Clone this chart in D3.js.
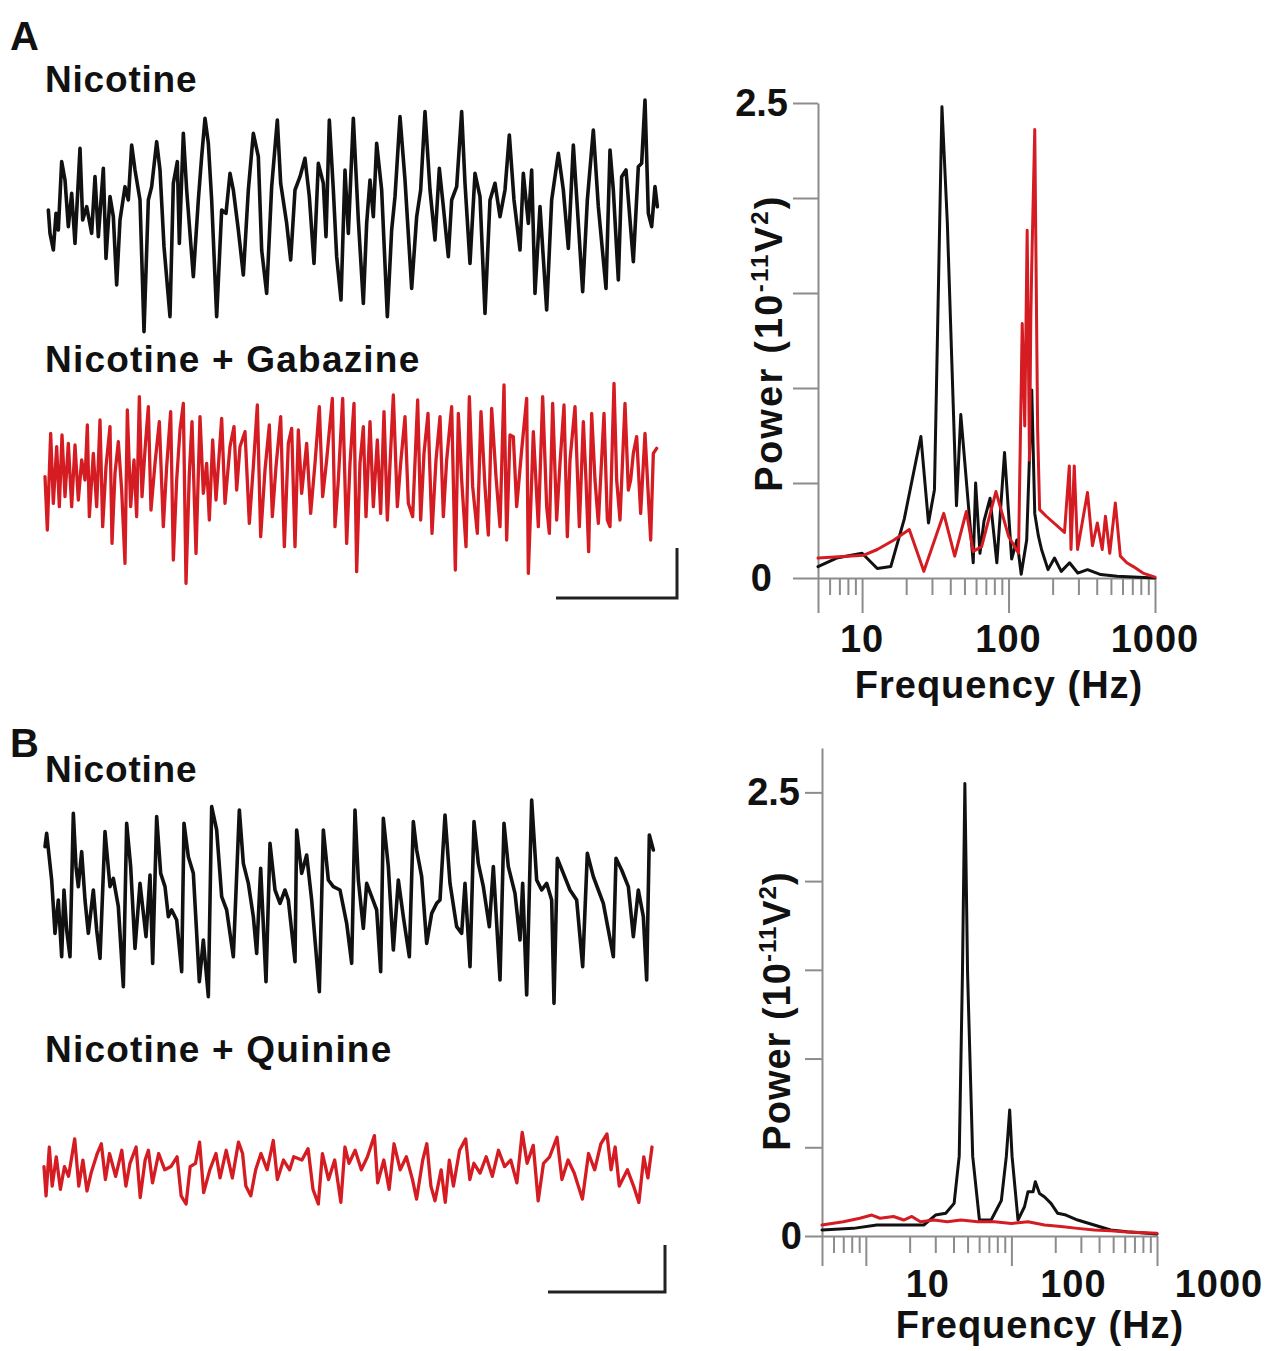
<!DOCTYPE html>
<meta charset="utf-8">
<html>
	<style>
		body {
		  margin: 0;
		  background: #fff;
		}
		text {
		  font-family: "Liberation Sans", Arial, sans-serif;
		  font-weight: bold;
		  fill: #111;
		}
		.axis path, .axis line {
		  stroke: #8c8c8c;
		  stroke-width: 2;
		}
		.trace, .spec {
		  fill: none;
		  stroke-linejoin: round;
		  stroke-linecap: round;
		}
	</style>

<body>
	<div id="figure"></div>

	<script src="https://d3js.org/d3.v7.min.js"></script>
<script>
//	-----Data-----
//	Field potential traces: [sample, amplitude (a.u.)]
	const traceA_nicotine = [[25,15],[30,-55],[40,-105],[48,5],[55,-45],[65,160],[75,105],[85,-35],[95,65],[105,-85],[120,200],[128,-15],[140,25],[155,-55],[165,115],[175,-65],[190,140],[198,-130],[210,55],[220,-5],[230,-210],[240,-15],[255,85],[265,45],[275,210],[285,135],[300,45],[312,-350],[325,45],[335,85],[350,220],[360,135],[372,-95],[390,-305],[400,95],[412,160],[418,-85],[430,245],[440,75],[460,-185],[475,45],[485,175],[495,290],[505,215],[515,45],[530,-305],[545,15],[558,5],[570,125],[580,75],[595,-45],[610,-180],[625,75],[640,245],[655,175],[665,-105],[680,-235],[695,85],[712,285],[722,95],[740,-25],[752,-135],[765,75],[780,115],[795,170],[808,55],[822,-145],[835,155],[850,95],[858,-65],[868,285],[880,75],[890,-125],[903,-255],[915,135],[925,-55],[940,290],
		[955,-15],[970,-265],[980,-25],[990,105],[1000,-5],[1010,215],[1025,75],[1042,-305],[1055,-45],[1065,55],[1080,295],[1095,105],[1115,-220],[1130,-5],[1142,75],[1155,310],[1170,75],[1185,-75],[1198,140],[1210,25],[1225,-125],[1235,45],[1250,85],[1265,310],[1275,95],[1290,-145],[1305,125],[1320,55],[1335,-295],[1350,45],[1365,95],[1380,-5],[1395,75],[1408,240],[1422,45],[1440,-105],[1450,125],[1465,-25],[1475,135],[1485,-235],[1500,25],[1520,-285],[1535,45],[1555,185],[1570,75],[1585,-100],[1600,210],[1615,-25],[1628,-230],[1642,45],[1660,255],[1675,25],[1698,-220],[1710,195],[1720,75],[1735,-195],[1745,115],[1758,135],[1780,-140],[1795,145],[1805,155],[1815,345],[1825,5],[1835,-35],[1845,85],[1852,25]];

	const traceA_gabazine = [[15,0],[22,-160],[32,130],[40,-80],[50,90],[58,-90],[66,125],[75,-60],[85,100],[95,-90],[105,95],[115,-70],[125,50],[135,-10],[142,155],[148,-120],[160,70],[170,-90],[180,170],[188,-150],[198,30],[210,150],[216,-200],[225,10],[235,105],[245,-40],[255,-260],[262,200],[272,-90],[282,50],[290,-120],[298,240],[306,-60],[315,80],[325,210],[333,-100],[345,40],[358,165],[370,-150],[380,30],[392,195],[400,-250],[410,-10],[420,140],[430,220],[438,-320],[448,10],[456,165],[468,-230],[480,180],[490,-50],[500,40],[508,-130],[518,110],[528,-70],[545,175],[555,-80],[570,90],[582,150],[590,-40],[600,90],[615,135],[628,-140],[640,30],[652,215],[662,-180],[675,20],[688,155],[697,-120],[708,30],[722,180],[733,-210],[745,100],[755,145],[765,-210],[775,140],[785,-50],[800,100],[812,-110],[825,40],[838,210],[848,-60],[860,50],[877,235],[885,-150],[895,-10],[908,235],[920,-200],[930,40],[942,220],[950,-285],
		[960,40],[970,150],[978,-120],[990,165],[1000,-90],[1012,110],[1022,-110],[1032,195],[1042,-130],[1060,245],[1072,-90],[1082,40],[1095,180],[1105,-80],[1118,-120],[1133,230],[1142,-130],[1152,70],[1164,190],[1176,-170],[1188,50],[1200,180],[1210,-120],[1220,50],[1235,210],[1246,-280],[1255,190],[1265,-10],[1278,-210],[1288,240],[1298,-30],[1312,-170],[1323,195],[1335,-30],[1345,-175],[1355,205],[1368,0],[1380,-150],[1392,275],[1400,-190],[1410,125],[1420,120],[1430,-90],[1445,80],[1460,235],[1465,-290],[1475,-10],[1480,135],[1495,-150],[1508,240],[1520,-90],[1528,-170],[1538,220],[1550,-130],[1560,40],[1572,215],[1582,-180],[1590,50],[1605,210],[1618,-150],[1630,165],[1638,-10],[1646,-225],[1655,190],[1665,-10],[1675,-140],[1692,190],[1702,-130],[1710,-150],[1722,280],[1730,-10],[1740,-130],[1755,220],[1765,-40],[1772,-10],[1780,70],[1790,120],[1802,-110],[1815,130],[1832,-190],[1840,70],[1850,85]];

	const traceB_nicotine = [[15,150],[20,190],[35,50],[45,-110],[55,-10],[65,-180],[72,20],[80,-100],[90,-180],[100,250],[108,90],[115,30],[125,135],[135,-10],[145,-110],[160,20],[170,-100],[180,-185],[195,195],[210,30],[220,55],[235,-30],[250,-270],[260,220],[272,90],[285,-155],[300,40],[318,-120],[330,65],[338,-200],[350,240],[362,70],[375,30],[385,-60],[395,-40],[410,-70],[425,-225],[432,220],[445,120],[460,70],[478,-255],[490,-130],[505,-300],[515,270],[530,200],[545,0],[560,-40],[580,-180],[598,260],[610,100],[625,40],[640,-60],[650,-170],[662,85],[678,-255],[690,160],[705,20],[720,-20],[735,20],[745,-10],[765,-195],[770,200],[785,70],[800,125],[815,-10],[838,-285],[850,200],[865,50],[880,30],[900,20],[920,-80],[935,-200],[945,260],
		[955,50],[970,-95],[980,40],[995,0],[1010,-40],[1022,-225],[1030,235],[1045,90],[1060,-160],[1075,50],[1090,-60],[1108,-180],[1120,225],[1130,140],[1145,60],[1160,-140],[1175,-50],[1190,-20],[1200,-10],[1215,245],[1230,40],[1250,-90],[1265,-110],[1275,40],[1290,-210],[1302,225],[1315,100],[1330,30],[1348,-90],[1360,90],[1380,-250],[1392,220],[1405,90],[1425,10],[1440,-130],[1448,40],[1460,-295],[1475,290],[1490,50],[1505,20],[1520,40],[1535,-10],[1542,-320],[1552,115],[1570,70],[1590,20],[1610,-10],[1628,-210],[1642,130],[1660,60],[1675,20],[1690,-20],[1720,-180],[1728,115],[1745,80],[1765,30],[1780,-120],[1795,20],[1810,-60],[1820,-250],[1828,185],[1840,140]];

	const traceB_quinine = [[15,10],[20,-80],[28,70],[35,-50],[45,40],[55,-60],[65,10],[75,-20],[90,95],[100,-50],[110,30],[120,-65],[130,-10],[145,50],[155,80],[165,-30],[175,50],[190,-20],[205,60],[215,-50],[225,20],[240,70],[250,-85],[262,30],[270,60],[280,-40],[295,50],[310,0],[325,10],[340,40],[350,-80],[362,-105],[372,10],[385,20],[395,85],[405,-70],[420,0],[435,50],[445,-25],[460,60],[475,-25],[490,85],[500,50],[508,-50],[520,-80],[532,0],[545,50],[560,0],[575,90],[585,-30],[600,30],[615,0],[625,40],[645,30],[660,65],[672,-60],[685,-105],[695,50],[710,-30],[725,30],[740,-100],[750,70],[760,20],[775,60],[790,0],[805,40],[822,105],[830,-40],[845,30],[858,-60],[870,80],[885,0],[900,40],[915,-30],[925,-90],[940,30],[950,80],[960,-50],[970,-95],[985,0],[995,-100],[1005,30],[1015,-50],[1030,60],[1045,95],[1055,-30],[1065,20],[1080,-10],[1095,40],[1110,-20],[1125,60],[1140,10],[1155,30],[1170,-40],[1183,115],[1195,20],[1210,75],[1222,-95],[1235,20],[1250,40],[1268,100],[1280,-30],[1295,30],[1310,-10],[1330,-90],[1345,50],[1360,0],[1375,80],[1390,110],[1400,0],[1410,70],[1420,-50],[1440,0],[1455,-50],[1468,-100],[1480,40],[1490,-25],[1500,70]];

//	Power spectra: [frequency (Hz), power (10^-11 V^2)]
	const specA_nicotine = [[5,0.06],[6.7,0.105],[10,0.13],[12.7,0.05],[15.7,0.06],[19.4,0.31],[25.2,0.745],[28.4,0.29],[31.2,0.465],[35.1,2.48],[38.2,1.87],[44.1,0.38],[47.2,0.86],[57.4,0.08],[59.6,0.5],[63.8,0.13],[68,0.3],[74.8,0.42],[83.2,0.08],[93.9,0.66],[105,0.10],[114,0.2],[122,0.02],[133,0.2],[144,0.99],[151,0.34],[160,0.22],[168,0.15],[186,0.044],[206,0.105],[229,0.035],[261,0.08],[297,0.026],[346,0.044],[426,0.018],[551,0.009],[1000,0]];

	const specA_gabazine = [[5,0.105],[10.3,0.12],[12.7,0.15],[16.5,0.2],[21,0.255],[26.4,0.035],[36.1,0.34],[42.9,0.115],[51.5,0.35],[57.4,0.14],[65.5,0.165],[82,0.455],[100,0.22],[117,0.13],[124,1.34],[129,0.8],[134,1.83],[139,0.62],[142,1.38],[144,1.64],[151,2.36],[158,0.78],[163,0.36],[181,0.325],[241,0.24],[260,0.59],[267,0.15],[281,0.59],[296,0.15],[346,0.45],[374,0.17],[404,0.29],[436,0.15],[459,0.325],[491,0.13],[536,0.395],[580,0.115],[642,0.08],[711,0.06],[828,0.026],[1000,0.005]];

	const specB_nicotine = [[5,0.034],[8.2,0.043],[11.9,0.062],[20.2,0.062],[25,0.062],[30.1,0.118],[35.4,0.128],[40.4,0.184],[43.8,0.45],[46.1,1.48],[47.9,2.55],[50,1.48],[54.2,0.45],[60.3,0.09],[72.6,0.09],[85.3,0.2],[92.3,0.45],[97.3,0.71],[101,0.45],[111,0.09],[123,0.165],[130,0.25],[141,0.25],[146,0.306],[156,0.24],[169,0.22],[187,0.184],[208,0.128],[237,0.118],[285,0.09],[370,0.062],[481,0.034],[624,0.024],[1000,0.011]];

	const specB_quinine = [[5,0.062],[7,0.08],[9.1,0.1],[11,0.118],[12.5,0.1],[15.5,0.11],[18.2,0.09],[20.7,0.11],[23.7,0.08],[29.4,0.09],[36.3,0.08],[45,0.09],[58.7,0.08],[76.6,0.08],[100,0.071],[130,0.08],[169,0.062],[219,0.053],[285,0.043],[370,0.034],[481,0.03],[624,0.022],[1000,0.015]];

//	Axis ticks
	const power_ticks = [0, 0.5, 1, 1.5, 2, 2.5];
	const freq_major = [5, 10, 100, 1000];
	const freq_minor = [6, 7, 8, 9, 20, 30, 40, 50, 60, 70, 80, 90, 200, 300, 400, 500, 600, 700, 800, 900];
	const freq_labels = [10, 100, 1000];

	const colour_ctrl = "#111111";
	const colour_drug = "#d41c22";

	var svg = d3.select("#figure")
				.append("svg")
					.attr("width", 1279)
					.attr("height", 1351);

//	-----Traces-----
	var t_scale = d3.scaleLinear().domain([0, 1890]).range([40, 670]);

	function draw_trace(data, x, y, colour, w) {
		var line = d3.line()
					 .x(d => x(d[0]))
					 .y(d => y(d[1]));
		svg.append("path")
		   .datum(data)
		   .attr("class", "trace")
		   .attr("d", line)
		   .attr("stroke", colour)
		   .attr("stroke-width", w);
	}

	draw_trace(traceA_nicotine, t_scale, d3.scaleLinear().domain([-375, 375]).range([340, 90]), colour_ctrl, 3.6);
	draw_trace(traceA_gabazine, t_scale, d3.scaleLinear().domain([-340, 290]).range([590, 380]), colour_drug, 3.3);
	draw_trace(traceB_nicotine, t_scale, d3.scaleLinear().domain([-340, 320]).range([1010, 790]), colour_ctrl, 3.6);
	draw_trace(traceB_quinine, d3.scaleLinear().domain([15, 1500]).range([44, 652]),
			   d3.scaleLinear().domain([-105, 110]).range([1204, 1134]), colour_drug, 3.3);

	// Scale bars
	function scale_bar(x0, x1, y0, y1) {
		svg.append("path")
		   .attr("d", "M" + x0 + "," + y1 + "H" + x1 + "V" + y0)
		   .attr("fill", "none")
		   .attr("stroke", "#222")
		   .attr("stroke-width", 3);
	}
	scale_bar(556, 677, 548, 598);
	scale_bar(548, 665, 1245, 1292);

//	-----Spectra-----
	function draw_spectrum(cfg) {
		var x = d3.scaleLog().domain([5, 1000]).range(cfg.xr);
		var y = d3.scaleLinear().domain([0, cfg.ymax]).range(cfg.yr);

		// Y axis
		svg.append("g")
		   .attr("class", "axis")
		   .attr("transform", "translate(" + cfg.xr[0] + ",0)")
		   .call(d3.axisLeft(y).tickValues(power_ticks).tickSize(cfg.ytick).tickSizeOuter(0).tickFormat(""));

		// X axis, minor then major ticks
		svg.append("g")
		   .attr("class", "axis")
		   .attr("transform", "translate(0," + cfg.yr[0] + ")")
		   .call(d3.axisBottom(x).tickValues(freq_minor).tickSize(17).tickSizeOuter(0).tickFormat(""));

		svg.append("g")
		   .attr("class", "axis")
		   .attr("transform", "translate(0," + cfg.yr[0] + ")")
		   .call(d3.axisBottom(x).tickValues(freq_major).tickSize(cfg.xtick).tickFormat(""))
		   .select(".domain").remove();

		// Tick labels
		svg.selectAll(null)
		   .data(freq_labels)
		   .enter()
		   .append("text")
			 .attr("x", d => x(d) + cfg.xlab_dx)
			 .attr("y", cfg.yr[0] + cfg.xlab_dy)
			 .attr("text-anchor", "middle")
			 .attr("font-size", 38)
			 .attr("letter-spacing", 1)
			 .text(d => d);

		svg.append("text")
		   .attr("x", cfg.lab25_x)
		   .attr("y", y(2.5) + 13)
		   .attr("text-anchor", "end")
		   .attr("font-size", 38)
		   .text("2.5");

		svg.append("text")
		   .attr("x", cfg.lab0_x)
		   .attr("y", y(0) + 13)
		   .attr("text-anchor", "end")
		   .attr("font-size", 38)
		   .text("0");

		// Axis titles
		var ytitle = svg.append("text")
						.attr("transform", "translate(" + cfg.ytitle[0] + "," + cfg.ytitle[1] + ")rotate(-90)")
						.attr("text-anchor", "middle")
						.attr("font-size", 38)
						.attr("letter-spacing", cfg.ytitle_ls);
		ytitle.append("tspan").text("Power (10");
		ytitle.append("tspan").attr("font-size", 24).attr("dy", -14).text("-11");
		ytitle.append("tspan").attr("dy", 14).text("V");
		ytitle.append("tspan").attr("font-size", 24).attr("dy", -14).text("2");
		ytitle.append("tspan").attr("dy", 14).text(")");

		svg.append("text")
		   .attr("x", cfg.xtitle[0])
		   .attr("y", cfg.xtitle[1])
		   .attr("text-anchor", "middle")
		   .attr("font-size", 38)
		   .attr("letter-spacing", 1)
		   .text("Frequency (Hz)");

		// Lines
		var line = d3.line()
					 .x(d => x(d[0]))
					 .y(d => y(d[1]));
		cfg.series.forEach(s => {
			svg.append("path")
			   .datum(s.data)
			   .attr("class", "spec")
			   .attr("d", line)
			   .attr("stroke", s.colour)
			   .attr("stroke-width", 3);
		});
	}

	draw_spectrum({
		xr: [818, 1155], yr: [578, 103], ymax: 2.5,
		ytick: 25, xtick: 35,
		xlab_dx: 0, xlab_dy: 74,
		lab25_x: 788, lab0_x: 772,
		ytitle: [782, 343], ytitle_ls: 2.2, xtitle: [999, 698],
		series: [{data: specA_nicotine, colour: colour_ctrl}, {data: specA_gabazine, colour: colour_drug}]
	});

	draw_spectrum({
		xr: [822, 1157], yr: [1236, 748], ymax: 2.75,
		ytick: 17, xtick: 30,
		xlab_dx: 62, xlab_dy: 61,
		lab25_x: 800, lab0_x: 802,
		ytitle: [790, 1011], ytitle_ls: 1, xtitle: [1040, 1338],
		series: [{data: specB_nicotine, colour: colour_ctrl}, {data: specB_quinine, colour: colour_drug}]
	});

//	-----Panel labels-----
	var labels = [
		{t: "A", x: 10, y: 50, s: 40},
		{t: "Nicotine", x: 45, y: 92, s: 37},
		{t: "Nicotine + Gabazine", x: 45, y: 372, s: 37},
		{t: "B", x: 10, y: 757, s: 40},
		{t: "Nicotine", x: 45, y: 782, s: 37},
		{t: "Nicotine + Quinine", x: 45, y: 1062, s: 37}
	];
	svg.selectAll(null)
	   .data(labels)
	   .enter()
	   .append("text")
		 .attr("x", d => d.x)
		 .attr("y", d => d.y)
		 .attr("font-size", d => d.s)
		 .attr("letter-spacing", d => d.t.length > 10 ? 1.2 : 0.8)
		 .text(d => d.t);
</script>
</body>
</html>
